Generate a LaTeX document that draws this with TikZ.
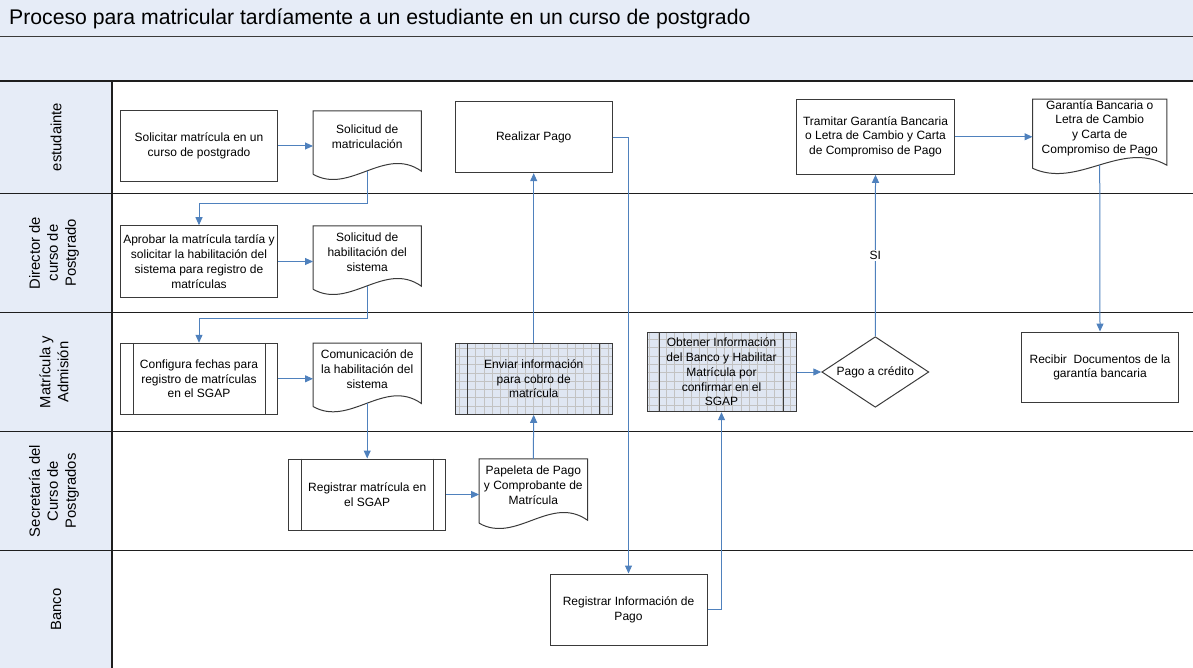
\documentclass[tikz,border=0pt]{standalone}
\usepackage{fontspec}
\setmainfont{Liberation Sans}
\usetikzlibrary{arrows.meta,calc,shapes.geometric}
\definecolor{band}{HTML}{E6ECF7}
\definecolor{flow}{HTML}{4F81BD}
\definecolor{edgec}{HTML}{3A3A3A}
\definecolor{lanec}{HTML}{1E1E1E}
\definecolor{gridfill}{HTML}{DFE6F2}
\definecolor{gridline}{HTML}{C2C2C2}
\tikzset{
  nodefont/.style={font=\fontsize{12}{14.8}\selectfont},
  box/.style={draw=edgec, line width=1pt, minimum width=157pt, minimum height=71pt,
    inner sep=1pt, align=center, nodefont},
  docbox/.style={draw=none, minimum width=108pt, minimum height=52pt,
    inner sep=1pt, align=center, nodefont},
  gridbox/.style={box, fill=gridfill, path picture={
      \draw[gridline, line width=1pt] ([shift={(-20pt,-20pt)}]path picture bounding box.south west)
        grid[step=8.3pt] ([shift={(20pt,20pt)}]path picture bounding box.north east);}},
  decision/.style={draw=edgec, line width=1pt, diamond, shape aspect=1.52,
    minimum width=107pt, minimum height=70.6pt, inner sep=0pt, align=center, nodefont},
  lanelabel/.style={rotate=90, align=center, font=\fontsize{14.8}{18}\selectfont},
  laneline/.style={draw=lanec, line width=1.5pt},
  flowline/.style={draw=flow, line width=1pt, -{Triangle[length=8pt,width=7pt]}},
}
\newcommand\docwave[1]{%
  \draw[edgec, line width=1pt] ($(#1.south west)+(0,11)$) -- (#1.north west) -- (#1.north east)
    -- ($(#1.south east)+(0,8)$)
    .. controls ($(#1.south west)!0.66!(#1.south east)+(0,-18)$)
    and ($(#1.south west)!0.34!(#1.south east)+(0,32)$) .. ($(#1.south west)+(0,11)$);
  \coordinate (#1-b) at ($(#1.south)+(0,7.6)$);}
\newcommand\subbars[1]{%
  \draw[edgec, line width=1pt] ($(#1.north west)+(13,0)$) -- ($(#1.south west)+(13,0)$);
  \draw[edgec, line width=1pt] ($(#1.north east)+(-13,0)$) -- ($(#1.south east)+(-13,0)$);}
\begin{document}
\begin{tikzpicture}[x=1pt,y=-1pt]
\useasboundingbox (0,0) rectangle (1193,668);
% bands
\fill[band] (0,0) rectangle (1193,81);
\fill[band] (0,81) rectangle (112,668);
\draw[draw=edgec, line width=1pt] (0,37) -- (1193,37);
\foreach \yy in {81,193.3,312.5,431.7,550.7} {\draw[laneline] (0,\yy) -- (1193,\yy);}
\draw[laneline] (112,81) -- (112,668);
\node[anchor=west, font=\fontsize{21.2}{24}\selectfont, inner sep=0pt] (title) at (9,18.5)
  {Proceso para matricular tardíamente a un estudiante en un curso de postgrado};
% lane labels
\node[lanelabel] (l1) at (56,137) {estudainte};
\node[lanelabel] (l2) at (54,253) {Director de\\curso de\\Postgrado};
\node[lanelabel] (l3) at (54,372) {Matrícula y\\Admisión};
\node[lanelabel] (l4) at (54,491) {Secretaría del\\Curso de\\Postgrados};
\node[lanelabel] (l5) at (56,609.5) {Banco};
% nodes
\node[box, minimum height=70.3pt] (sol) at (199,146) {Solicitar matrícula en un\\curso de postgrado};
\node[docbox] (d1) at (367.2,137) {Solicitud de\\matriculación};
\docwave{d1}
\node[box, minimum height=71.6pt] (apr) at (199,261.5) {Aprobar la matrícula tardía y\\solicitar la habilitación del\\sistema para registro de\\matrículas};
\node[docbox] (d2) at (367.2,252) {Solicitud de\\habilitación del\\sistema};
\docwave{d2}
\node[box] (conf) at (199,378.8) {Configura fechas para\\registro de matrículas\\en el SGAP};
\subbars{conf}
\node[docbox] (com) at (367.2,369.3) {Comunicación de\\la habilitación del\\sistema};
\docwave{com}
\node[box] (regmat) at (367.2,494.5) {Registrar matrícula en\\el SGAP};
\subbars{regmat}
\node[docbox, minimum height=53pt] (pap) at (533.3,485.5) {Papeleta de Pago\\y Comprobante de\\Matrícula};
\docwave{pap}
\node[gridbox] (env) at (533.7,378.8) {Enviar información\\para cobro de\\matrícula};
\subbars{env}
\node[box] (real) at (533.7,137.2) {Realizar Pago};
\node[box] (reginfo) at (628.5,609.5) {Registrar Información de\\Pago};
\node[gridbox, minimum width=149pt, minimum height=79.4pt] (obt) at (721.5,372)
  {Obtener Información\\del Banco y Habilitar\\Matrícula por\\confirmar en el\\SGAP};
\subbars{obt}
\node[decision] (dia) at (875.3,372) {Pago a crédito};
\node[box, minimum width=157.6pt, minimum height=75pt] (tram) at (875.5,136.8)
  {Tramitar Garantía Bancaria\\o Letra de Cambio y Carta\\de Compromiso de Pago};
\node[docbox, minimum width=134pt, minimum height=57.7pt] (gar) at (1099.7,128.2)
  {Garantía Bancaria o\\Letra de Cambio\\y Carta de\\Compromiso de Pago};
\docwave{gar}
\node[box, minimum height=70.7pt] (rec) at (1100,367.4) {Recibir\ \ Documentos de la\\garantía bancaria};
% connectors
\draw[flowline] (sol.east) -- (sol.east -| d1.west);
\draw[flowline] (d1-b) |- ($(apr.north)+(0,-22)$) -- (apr.north);
\draw[flowline] (apr.east) -- (apr.east -| d2.west);
\draw[flowline] (d2-b) |- ($(conf.north)+(0,-24)$) -- (conf.north);
\draw[flowline] (conf.east) -- (conf.east -| com.west);
\draw[flowline] (com-b) -- (regmat.north);
\draw[flowline] (regmat.east) -- (regmat.east -| pap.west);
\draw[flowline] (pap.north) -- (env.south);
\draw[flowline] (env.north) -- (real.south);
\draw[flowline] (real.east) -| (reginfo.north);
\draw[flowline] (reginfo.east) -| (obt.south);
\draw[flowline] (obt.east) -- (dia.west);
\draw[flowline] (dia.north) -- node[pos=0.5, fill=white, inner sep=1.5pt, nodefont] (si) {SI} (tram.south);
\draw[flowline] (tram.east) -- (tram.east -| gar.west);
\draw[flowline] (gar-b) -- (rec.north);
\end{tikzpicture}
\end{document}
